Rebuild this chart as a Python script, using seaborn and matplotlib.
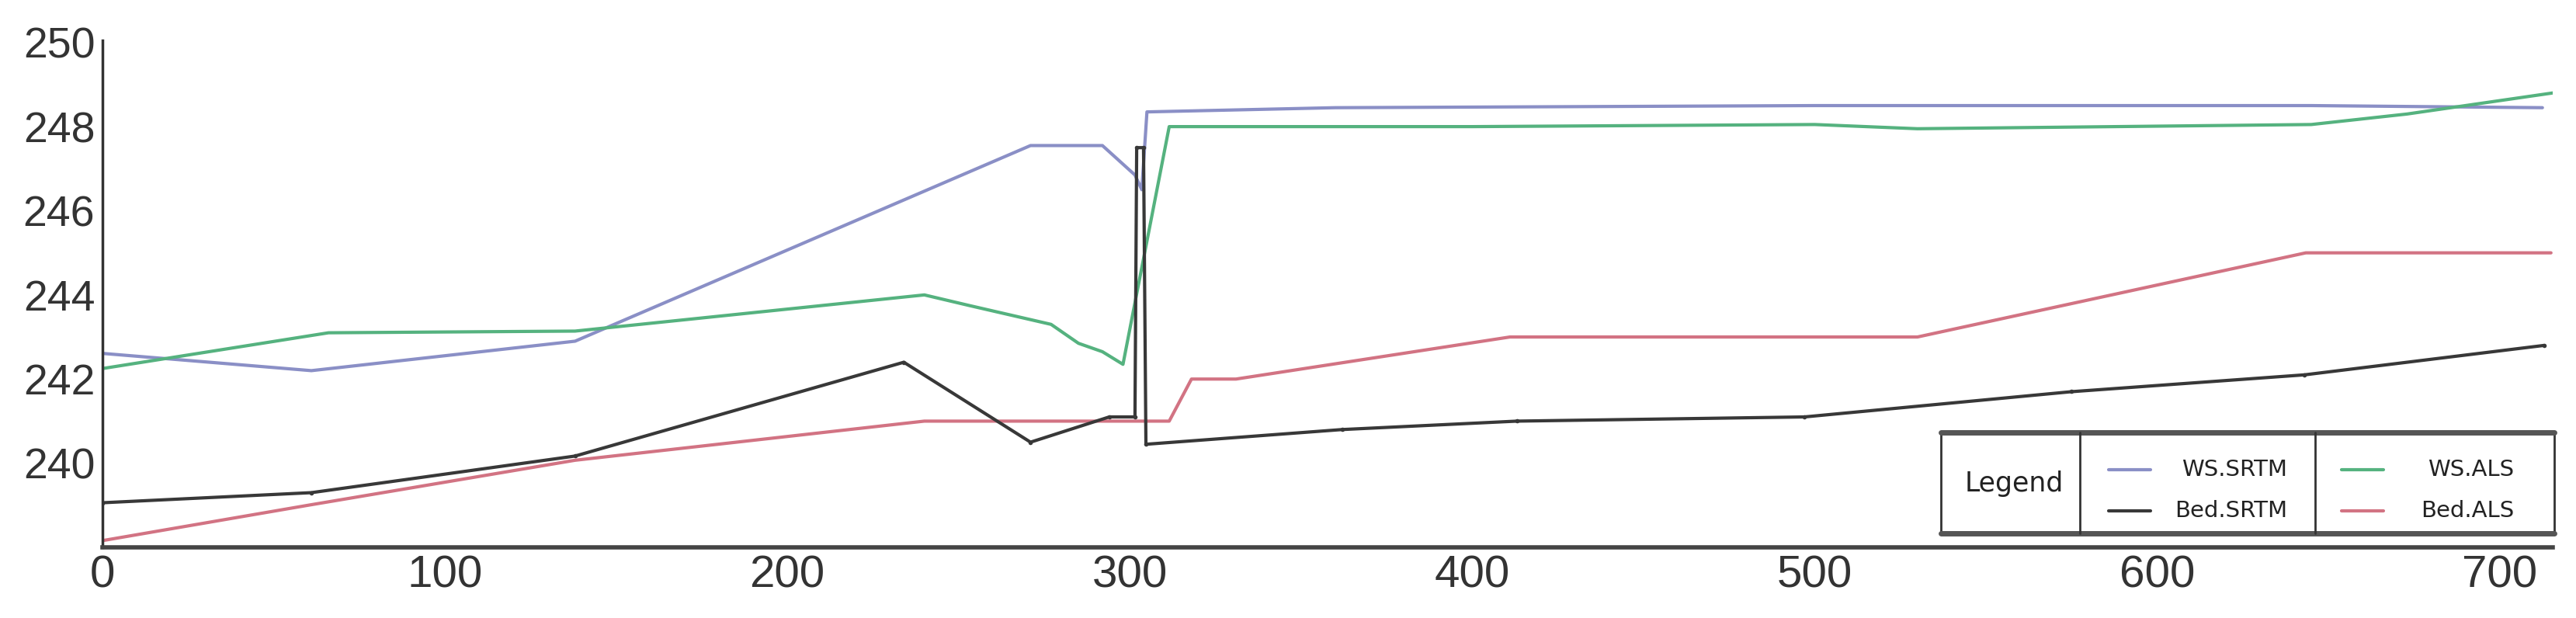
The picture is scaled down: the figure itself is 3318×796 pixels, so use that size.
import numpy as np
import pandas as pd
import matplotlib
matplotlib.use('Agg')
import matplotlib.pyplot as plt
from matplotlib.ticker import MultipleLocator
import seaborn as sns

sns.set_style('white')
plt.rcParams['font.family'] = ['DejaVu Sans']
tick_font = ['Liberation Sans Narrow', 'Liberation Sans', 'DejaVu Sans']

# profile data (station in m, elevation in m)
ws_srtm_x = [0, 61, 138, 271, 292, 301.5, 303.5, 305, 360, 500, 645, 712.5]
ws_srtm_y = [242.61, 242.2, 242.9, 247.55, 247.55, 246.85, 246.5, 248.35, 248.45, 248.5, 248.5, 248.45]

ws_als_x = [0, 66, 138, 240, 253, 277, 285, 292, 298, 311.5, 400, 500, 530, 645, 673, 715.5]
ws_als_y = [242.25, 243.1, 243.14, 244.0, 243.75, 243.3, 242.85, 242.65, 242.35, 248.0,
            248.0, 248.05, 247.95, 248.05, 248.3, 248.8]

bed_srtm_x = [0, 61, 138, 234, 271, 294, 301.5, 302, 304, 304.7, 362, 413, 497, 575, 643, 713]
bed_srtm_y = [239.06, 239.3, 240.17, 242.4, 240.5, 241.1, 241.1, 247.5, 247.5, 240.45,
              240.8, 241.0, 241.1, 241.7, 242.1, 242.8]

bed_als_x = [0, 60, 138, 240, 311.5, 318, 331, 411, 530, 643.4, 715]
bed_als_y = [238.16, 239.0, 240.07, 241.0, 241.0, 242.0, 242.0, 243.0, 243.0, 245.0, 245.0]

x_ticks = [0, 100, 200, 300, 400, 500, 600, 700]
y_ticks = [240, 242, 244, 246, 248, 250]

colors = {'WS.SRTM': '#8a8fc6', 'WS.ALS': '#55b27f', 'Bed.SRTM': '#383838', 'Bed.ALS': '#d27383'}

W, H = 3318, 796
fig = plt.figure(figsize=(W / 100, H / 100), dpi=100)
ax = fig.add_axes([132 / W, 1 - 705 / H, (3288 - 132) / W, (705 - 52) / H])

series = [(ws_srtm_x, ws_srtm_y, 'WS.SRTM'), (ws_als_x, ws_als_y, 'WS.ALS'),
          (bed_als_x, bed_als_y, 'Bed.ALS'), (bed_srtm_x, bed_srtm_y, 'Bed.SRTM')]
for xs, ys, name in series:
    df = pd.DataFrame({'station': xs, 'elev': ys})
    sns.lineplot(data=df, x='station', y='elev', ax=ax, color=colors[name], lw=3,
                 sort=False, estimator=None,
                 marker='o' if name == 'Bed.SRTM' else None, markersize=4,
                 markeredgewidth=0)

ax.set_xlim(0, 715.5)
ax.set_ylim(238, 250.05)
ax.set_xlabel('')
ax.set_ylabel('')
ax.set_yticks(y_ticks, [str(t) for t in y_ticks], fontfamily=tick_font,
              fontstretch='condensed', fontsize=40, color='#333333')
ax.set_xticks(x_ticks, [str(t) for t in x_ticks], fontfamily=tick_font,
              fontstretch='condensed', fontsize=42, color='#333333')
ax.yaxis.set_minor_locator(MultipleLocator(0.2))
ax.xaxis.set_minor_locator(MultipleLocator(50))
ax.tick_params(axis='both', which='both', direction='inout', color='#444444', width=1.5)
ax.tick_params(axis='y', which='major', length=10, pad=2)
ax.tick_params(axis='x', which='major', length=10, pad=2)
ax.tick_params(axis='both', which='minor', length=6)
for s in ['top', 'right']:
    ax.spines[s].set_visible(False)
ax.spines['left'].set_linewidth(2.5)
ax.spines['bottom'].set_linewidth(4)
ax.spines['left'].set_color('#333333')
ax.spines['bottom'].set_color('#444444')


# legend drawn as a boxed table in figure pixels
def fx(px):
    return px / W


def fy(py):
    return 1 - py / H


tf = fig.transFigure
L, R, T, B = 2500, 3290, 557, 687
fig.add_artist(plt.Rectangle((fx(L), fy(B)), fx(R) - fx(L), fy(T) - fy(B), transform=tf,
                             facecolor='white', edgecolor='#333333', lw=2, zorder=5))
for yy in (T, B):
    fig.add_artist(plt.Line2D([fx(L), fx(R)], [fy(yy), fy(yy)], transform=tf,
                              color='#555555', lw=5, zorder=6))
for xx in (2679, 2982):
    fig.add_artist(plt.Line2D([fx(xx), fx(xx)], [fy(T), fy(B)], transform=tf,
                              color='#333333', lw=2, zorder=6))
fig.text(fx(2594), fy(623), 'Legend', ha='center', va='center', fontsize=25,
         color='#222222', zorder=7)
entries = [('WS.SRTM', 2716, 2946, 605), ('Bed.SRTM', 2716, 2946, 658),
           ('WS.ALS', 3016, 3238, 605), ('Bed.ALS', 3016, 3238, 658)]
for name, hx, tx, yy in entries:
    fig.add_artist(plt.Line2D([fx(hx), fx(hx + 54)], [fy(yy), fy(yy)], transform=tf,
                              color=colors[name], lw=3, zorder=7))
    fig.text(fx(tx), fy(yy), name, ha='right', va='center', fontsize=21,
             color='#222222', zorder=7)

plt.savefig('out.png', dpi=100)
